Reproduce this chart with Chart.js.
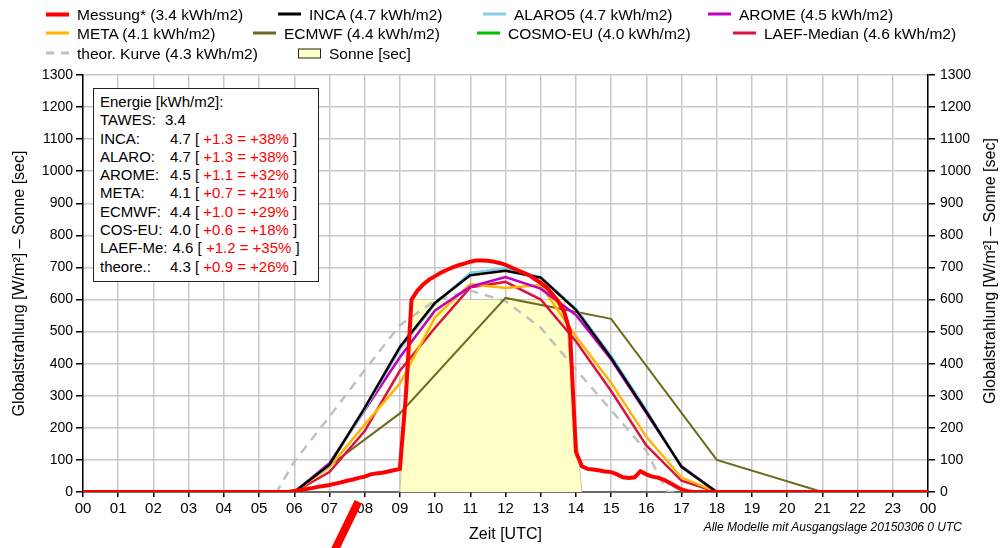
<!DOCTYPE html>
<html><head><meta charset="utf-8">
<script src="https://cdn.jsdelivr.net/npm/chart.js@4.4.1/dist/chart.umd.min.js"></script>
<style>
body{margin:0;background:#fff;font-family:"Liberation Sans",Arial,sans-serif;color:#000;}
#wrap{position:relative;width:1003px;height:548px;overflow:hidden;background:#fff;}
#c{position:absolute;left:0;top:0;}
#legend{position:absolute;left:0;top:0;width:1003px;height:64px;font-size:15.5px;}
.item{position:absolute;display:flex;align-items:center;height:19px;white-space:nowrap;transform:translateY(-50%);}
.sample{width:23px;margin-right:8px;}
#info{position:absolute;left:93px;top:88px;width:226px;height:194px;box-sizing:border-box;border:1.5px solid #222;background:#fff;font-size:15px;line-height:18.3px;padding:4px 0 0 6px;}
#info .ln{white-space:pre;display:flex;}
#info .lab{min-width:65px;padding-right:5px;display:inline-block;}
#info .red{color:#f00;}
#ytitle2{position:absolute;left:990px;top:271px;transform:translate(-50%,-50%) rotate(-90deg);font-size:16px;white-space:nowrap;}
#note{position:absolute;right:41px;top:520px;font-size:12px;font-style:italic;white-space:nowrap;}
#mark{position:absolute;left:342px;top:499px;width:8px;height:56px;background:#f00;transform:rotate(26deg);}
</style></head>
<body><div id="wrap"><canvas id="c" width="1003" height="548"></canvas>
<div id="legend"></div><div id="info"></div>
<div id="ytitle2"></div><div id="note"></div><div id="mark"></div></div>
<script>
// ---- data ----
const seriesNames = ['Messung*','INCA','ALARO5','AROME','META','ECMWF','COSMO-EU','LAEF-Median','theor. Kurve'];
const seriesEnergy = [3.4,4.7,4.7,4.5,4.1,4.4,4.0,4.6,4.3];
const sunLabel = 'Sonne [sec]';

const modelHours = [0,1,2,3,4,5,6,7,8,9,10,11,12,13,14,15,16,17,18,19,20,21,22,23,24];
const inca  = [0,0,0,0,0,0,0,85,262,452,590,676,690,668,568,418,250,78,0,0,0,0,0,0,0];
const alaro = [0,0,0,0,0,0,0,84,258,445,586,684,697,670,572,425,256,76,0,0,0,0,0,0,0];
const arome = [0,0,0,0,0,0,0,90,255,420,566,640,670,634,552,413,246,80,0,0,0,0,0,0,0];
const meta  = [0,0,0,0,0,0,0,78,210,338,545,648,636,645,485,340,172,45,0,0,0,0,0,0,0];
const laef  = [0,0,0,0,0,0,0,62,190,378,512,638,655,600,470,315,145,35,0,0,0,0,0,0,0];
const cosmo = [];
const ecmwfHours = [0,3,6,9,12,15,18,21,24];
const ecmwf = [0,0,0,245,605,540,100,0,0];
const theorHours = [0,5.5,6,7,8,9,10,11,12,13,14,15,16,16.6,24];
const theor = [0,0,95,235,380,520,597,628,595,512,382,255,128,0,0];
const sunHours = [0,9,9.33,13.67,14.17,24];
const sun = [0,0,600,600,0,0];
const measHours = [0,5.83,
 6,6.17,6.33,6.5,6.67,6.83, 7,7.17,7.33,7.5,7.67,7.83, 8,8.17,8.33,8.5,8.67,8.83,
 9,9.17,9.33,9.5,9.67,9.83, 10,10.17,10.33,10.5,10.67,10.83, 11,11.17,11.33,11.5,11.67,11.83,
 12,12.17,12.33,12.5,12.67,12.83, 13,13.17,13.33,13.5,13.67,13.83, 14,14.17,14.33,14.5,14.67,14.83,
 15,15.17,15.33,15.5,15.67,15.83, 16,16.17,16.33,16.5,16.67,16.83, 17,17.17,17.33,24];
const meas = [0,0,
 3,6,9,12,16,19, 22,26,30,35,39,44, 48,55,58,60,64,68,
 72,300,600,628,648,662, 673,684,692,700,707,712, 718,722,722,721,718,714,
 708,700,692,684,676,664, 652,637,617,594,560,500, 125,80,72,70,67,64,
 62,55,46,44,46,65, 55,48,45,38,28,18, 8,2,0,0];

const infoTitle = 'Energie [kWh/m2]:';
const tawesLabel = 'TAWES:', tawesValue = '3.4';
const infoNames = ['INCA:','ALARO:','AROME:','META:','ECMWF:','COS-EU:','LAEF-Me:','theore.:'];
const infoEnergy = ['4.7','4.7','4.5','4.1','4.4','4.0','4.6','4.3'];
const infoDiff = ['+1.3','+1.3','+1.1','+0.7','+1.0','+0.6','+1.2','+0.9'];
const infoPct = ['+38%','+38%','+32%','+21%','+29%','+18%','+35%','+26%'];

const yTitle = 'Globalstrahlung [W/m²] – Sonne [sec]';
const xTitle = 'Zeit [UTC]';
const noteText = 'Alle Modelle mit Ausgangslage 20150306 0 UTC';

// ---- styles ----
const colors = ['#ff0000','#000000','#87ceeb','#c000c0','#ffb400','#6b6b1e','#00c000','#dc143c','#c0c0c0'];
const widths = [4,2.5,2.5,2.5,2.5,2,2.5,2.5,2.5];
const sunFill = '#ffffc8';

const pts = (xs, ys) => xs.map((x,i)=>({x, y: ys[i]})).filter(p=>p.y!==undefined);
const series = [
  pts(measHours, meas), pts(modelHours, inca), pts(modelHours, alaro), pts(modelHours, arome),
  pts(modelHours, meta), pts(ecmwfHours, ecmwf), pts(modelHours, cosmo), pts(modelHours, laef),
  pts(theorHours, theor)
];
const drawOrder = [0,2,3,4,5,7,6,5.5,8];
const datasets = series.map((d,i)=>({
  label: seriesNames[i], data: d, borderColor: colors[i], borderWidth: widths[i],
  pointRadius: 0, tension: 0, fill: false, order: drawOrder[i],
  borderDash: i===8 ? [9,7] : [], yAxisID: 'y'
}));
datasets.push({label: sunLabel, data: pts(sunHours, sun), borderColor: '#c8c8b0', borderWidth: 1,
  backgroundColor: sunFill, fill: 'origin', pointRadius: 0, tension: 0, order: 20, yAxisID: 'y'});

const pad2 = v => String(((v % 24)+24)%24).padStart(2,'0');
const FONT = '"Liberation Sans", Arial, sans-serif';

new Chart(document.getElementById('c'), {
  type: 'line',
  data: { datasets },
  options: {
    responsive: false, animation: false, devicePixelRatio: 1,
    layout: { padding: { top: 75, left: 0, right: 0, bottom: 0 } },
    plugins: { legend: { display: false }, tooltip: { enabled: false } },
    scales: {
      x: { type: 'linear', min: 0, max: 24,
        afterFit: s => { s.height = 56; },
        ticks: { stepSize: 1, autoSkip: false, maxRotation: 0, padding: 3, color: '#000',
          font: { family: FONT, size: 15 }, callback: v => pad2(v) },
        grid: { color: '#c8c8c8', lineWidth: 1.5, tickColor: '#000', tickLength: 5 },
        border: { color: '#000', width: 1.5 },
        title: { display: true, text: xTitle, color: '#000', padding: { top: 0, bottom: 4 },
          font: { family: FONT, size: 16 } } },
      y: { position: 'left', min: 0, max: 1300,
        afterFit: s => { s.width = 83; },
        ticks: { stepSize: 100, padding: 3, color: '#000', callback: v => String(v),
          font: { family: FONT, size: 14 } },
        grid: { color: '#c8c8c8', lineWidth: 1.5, tickColor: '#000', tickLength: 7 },
        border: { color: '#000', width: 1.5 },
        title: { display: true, text: yTitle, color: '#000', padding: { top: 10, bottom: 0 },
          font: { family: FONT, size: 16 } } },
      y2: { position: 'right', min: 0, max: 1300,
        afterFit: s => { s.width = 75; },
        ticks: { stepSize: 100, padding: 5, color: '#000', callback: v => String(v),
          font: { family: FONT, size: 14 } },
        grid: { drawOnChartArea: false, color: '#000', lineWidth: 1.5, tickColor: '#000', tickLength: 7 },
        border: { color: '#000', width: 1.5 } }
    }
  }
});

// ---- HTML legend (item index, left px, row centre px) ----
const legendLayout = [[0,46,14],[1,278,14],[2,483,14],[3,708,14],
                      [4,46,33],[5,253,33],[6,477,33],[7,733,33],
                      [8,46,53],[9,298,53]];
const leg = document.getElementById('legend');
legendLayout.forEach(([i,lx,cy])=>{
  const it = document.createElement('div'); it.className='item';
  it.style.left = lx+'px'; it.style.top = cy+'px';
  const s = document.createElement('div'); s.className='sample';
  let text;
  if (i === 9) {
    s.style.cssText = 'height:10px;box-sizing:border-box;border:1px solid #222;background:'+sunFill+';';
    text = sunLabel;
  } else {
    const h = i===0 ? 4 : 3;
    if (i === 8) s.style.cssText = 'height:'+h+'px;background:linear-gradient(to right,'+colors[i]+' 0 8px,transparent 8px 15px,'+colors[i]+' 15px 23px);';
    else s.style.cssText = 'height:'+h+'px;background:'+colors[i]+';';
    text = seriesNames[i] + ' (' + seriesEnergy[i].toFixed(1) + ' kWh/m2)';
  }
  const t = document.createElement('span'); t.textContent = text;
  it.appendChild(s); it.appendChild(t); leg.appendChild(it);
});

// ---- info box ----
const info = document.getElementById('info');
const addLine = html => { const d=document.createElement('div'); d.className='ln'; d.innerHTML=html; info.appendChild(d); };
addLine(infoTitle);
addLine('<span class="lab" style="min-width:60px">'+tawesLabel+'</span><span>'+tawesValue+'</span>');
infoNames.forEach((n,i)=>{
  addLine('<span class="lab">'+n+'</span><span>'+infoEnergy[i]+' [ <span class="red">'+infoDiff[i]+' = '+infoPct[i]+'</span> ]</span>');
});
document.getElementById('ytitle2').textContent = yTitle;
document.getElementById('note').textContent = noteText;
</script></body></html>
